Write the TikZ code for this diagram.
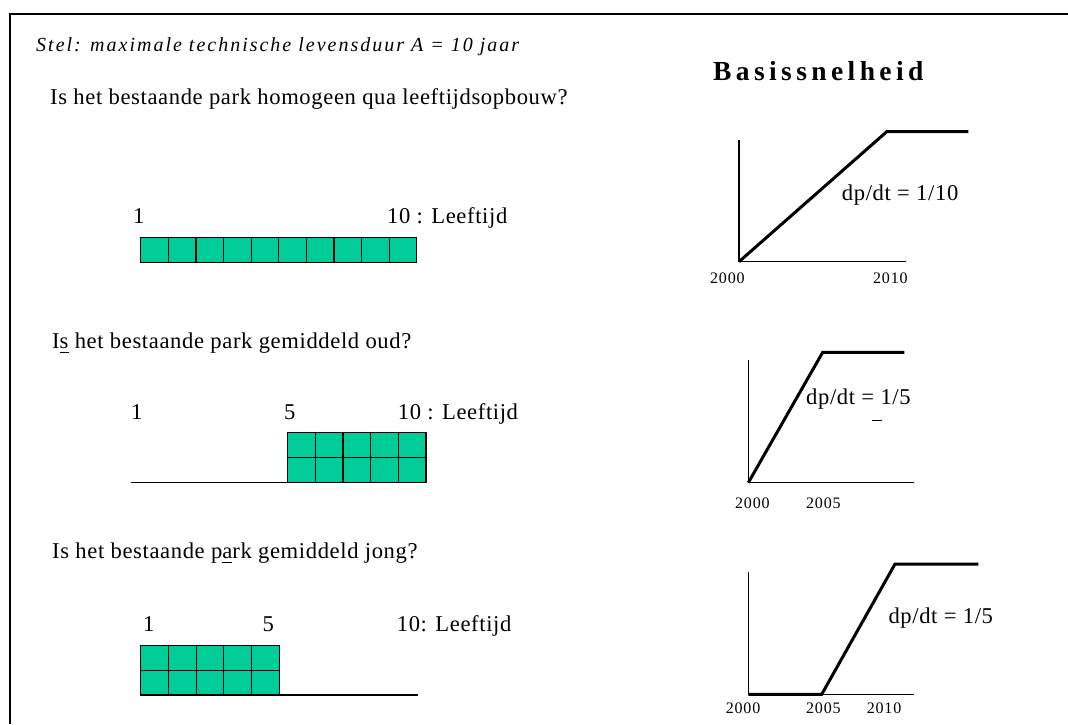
\documentclass[tikz,border=0pt]{standalone}
\usepackage{fontspec}
\setmainfont{Liberation Serif}
\newfontfamily\qfont[LetterSpace=2.8]{Liberation Serif}
\newfontfamily\numfont[LetterSpace=5]{Liberation Serif}
\newfontfamily\stelfont[LetterSpace=10]{Liberation Serif}
\newfontfamily\headfont[LetterSpace=16]{Liberation Serif}
\definecolor{cellgreen}{HTML}{00CC99}
\newcommand{\ulchar}[1]{\vtop{\hbox{#1}\kern3.5pt\hrule height 1.2pt}}

\begin{document}
\begin{tikzpicture}[x=1pt,y=-1pt,
  txt/.style={anchor=base west,inner sep=0pt,font=\qfont\fontsize{22.6}{26}\selectfont},
  yr/.style={anchor=base west,inner sep=0pt,font=\numfont\fontsize{16}{19}\selectfont},
  cell/.style={draw=black,fill=cellgreen,line width=1.2pt},
  axis/.style={line width=1.2pt},
  rate/.style={line width=3pt,line join=miter}]
  \useasboundingbox (0,0) rectangle (1068,724);
  \draw[line width=2pt] (10,724) -- (10,14) -- (1068,14);

  \node[anchor=base west,inner sep=0pt,font=\stelfont\itshape\fontsize{20}{24}\selectfont] (stel) at (36,51)
    {Stel: maximale technische levensduur A = 10 jaar};
  \node[anchor=base west,inner sep=0pt,font=\headfont\bfseries\fontsize{27.5}{32}\selectfont] (kop) at (713,80)
    {Basissnelheid};

  \node[txt] (q1) at (50,104) {Is het bestaande park homogeen qua leeftijdsopbouw?};
  \node[txt] (q2) at (52,348) {I\ulchar{s} het bestaande park gemiddeld oud?};
  \node[txt] (q3) at (52,558) {Is het bestaande p\ulchar{a}rk gemiddeld jong?};

  \node[txt] (a1) at (133,223) {1};
  \node[txt] (l1) at (387,223) {10 : Leeftijd};
  \node[txt] (a2) at (131,419) {1};
  \node[txt] (m2) at (284,419) {5};
  \node[txt] (l2) at (397.7,419) {10 : Leeftijd};
  \node[txt] (a3) at (143,631) {1};
  \node[txt] (m3) at (262.5,631) {5};
  \node[txt] (l3) at (396.7,631) {10: Leeftijd};

  \foreach \i in {0,...,9}
    \draw[cell] (140.7+27.6*\i,237.3) rectangle ++(27.6,25);

  \draw[axis] (131,482.3) -- (426,482.3);
  \foreach \i in {0,...,4}{
    \draw[cell] (287.7+27.66*\i,432.7) rectangle ++(27.66,24.8);
    \draw[cell] (287.7+27.66*\i,457.5) rectangle ++(27.66,24.8);
  }

  \draw[axis] (140.7,695) -- (417.7,695);
  \foreach \i in {0,...,4}{
    \draw[cell] (140.7+27.7*\i,645.7) rectangle ++(27.7,24.65);
    \draw[cell] (140.7+27.7*\i,670.35) rectangle ++(27.7,24.65);
  }

  \coordinate (o1) at (739,261.7);
  \draw[axis] (739,140) -- (o1) -- (905.7,261.7);
  \draw[rate] (o1) -- (886.7,131.7) -- (968.3,131.7);
  \node[txt] (r1) at (841.7,200) {dp/dt = 1/10};
  \node[yr] (t10) at (710,283) {2000};
  \node[yr] (t11) at (873,283) {2010};

  \coordinate (o2) at (748.3,482.7);
  \draw[axis] (748.3,360) -- (o2) -- (914.3,482.7);
  \draw[rate] (o2) -- (822.7,352.3) -- (904.3,352.3);
  \node[txt] (r2) at (806,404) {dp/dt = 1/5};
  \draw[line width=1pt] (871.7,420.7) -- (881.7,420.7);
  \node[yr] (t20) at (735,508) {2000};
  \node[yr] (t21) at (806,508) {2005};

  \coordinate (o3) at (748.3,694.3);
  \draw[axis] (748.3,571.7) -- (o3) -- (914.3,694.3);
  \draw[rate] (o3) -- (821.7,694.3) -- (895,564) -- (978.3,564);
  \node[txt] (r3) at (888.3,623.3) {dp/dt = 1/5};
  \node[yr] (t30) at (725.7,713.3) {2000};
  \node[yr] (t31) at (806,713.3) {2005};
  \node[yr] (t32) at (866.7,713.3) {2010};
\end{tikzpicture}
\end{document}
